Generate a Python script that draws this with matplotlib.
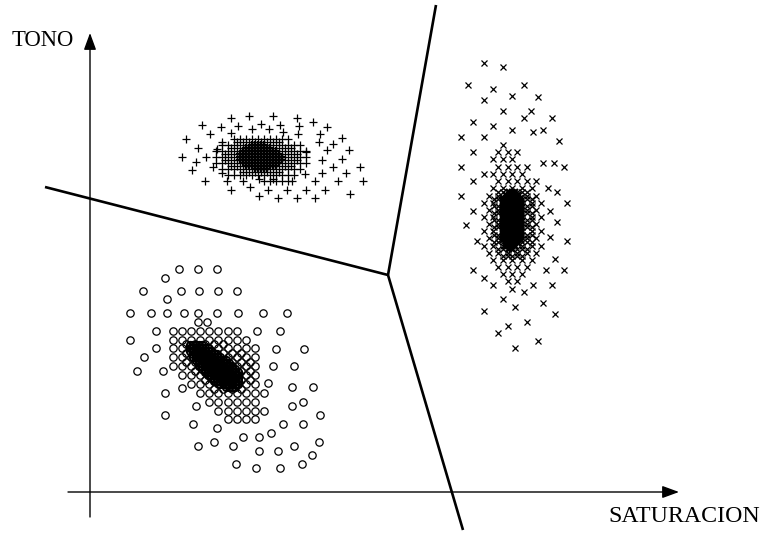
import matplotlib

matplotlib.use("Agg")
import matplotlib.pyplot as plt

# the canvas is laid out in pixel units, y growing downward
W, H = 761, 533

# "+" class, upper left: scattered samples, a coarse lattice, a finer one, a dense core
plus_x = [231, 249, 273, 297, 313, 202, 221, 238, 252, 261, 269, 280, 299, 327,
          210, 231, 283, 298, 320, 342, 186, 222, 333, 319, 198, 217, 327, 349, 306,
          182, 206, 322, 342, 196, 213, 192, 360, 333, 222, 305, 322, 346,
          205, 227, 243, 259, 273, 292, 315, 338, 363, 231, 250, 268, 287, 306, 325,
          259, 278, 297, 315, 350]
plus_y = [118, 116, 116, 118, 122, 125, 127, 126, 129, 124, 129, 125, 126, 127,
          134, 133, 132, 134, 134, 138, 139, 142, 144, 142, 148, 149, 150, 150, 152,
          157, 157, 160, 159, 162, 167, 170, 167, 167, 173, 174, 173, 173,
          181, 181, 181, 179, 179, 181, 181, 181, 181, 190, 187, 190, 190, 190, 190,
          196, 198, 198, 198, 194]
plus_grid = {
    139: [234, 240, 246, 252, 258, 264, 270, 276, 282, 288],
    145: [222, 228, 234, 240, 246, 252, 258, 264, 270, 276, 282, 288, 294, 300],
    151: [216, 222, 228, 234, 240, 246, 252, 258, 264, 270, 276, 282, 288, 294, 300, 306],
    157: [216, 222, 228, 234, 240, 246, 252, 258, 264, 270, 276, 282, 288, 294, 300, 306],
    163: [216, 222, 228, 234, 240, 246, 252, 258, 264, 270, 276, 282, 288, 294, 300, 306],
    169: [222, 228, 234, 240, 246, 252, 258, 264, 270, 276, 282, 288, 294, 300],
    175: [228, 234, 240, 246, 252, 258, 264, 270, 276, 282, 288, 294],
    181: [264, 270, 276, 282, 288],
}
plus_mid = {
    142: [237, 243, 249, 255, 261, 267, 273, 279],
    148: [231, 237, 243, 249, 255, 261, 267, 273, 279, 285, 291],
    154: [225, 231, 237, 243, 249, 255, 261, 267, 273, 279, 285, 291, 297],
    160: [225, 231, 237, 243, 249, 255, 261, 267, 273, 279, 285, 291, 297],
    166: [231, 237, 243, 249, 255, 261, 267, 273, 279, 285, 291],
    172: [243, 249, 255, 261, 267, 273, 279],
}
plus_core = {
    145: [252, 255, 258, 261, 264],
    148: [246, 249, 252, 255, 258, 261, 264, 267, 270],
    151: [243, 246, 249, 252, 255, 258, 261, 264, 267, 270, 273, 276],
    154: [240, 243, 246, 249, 252, 255, 258, 261, 264, 267, 270, 273, 276, 279],
    157: [240, 243, 246, 249, 252, 255, 258, 261, 264, 267, 270, 273, 276, 279, 282],
    160: [240, 243, 246, 249, 252, 255, 258, 261, 264, 267, 270, 273, 276, 279, 282],
    163: [243, 246, 249, 252, 255, 258, 261, 264, 267, 270, 273, 276, 279],
    166: [246, 249, 252, 255, 258, 261, 264, 267, 270, 273, 276],
    169: [255, 258, 261, 264, 267],
}

# "x" class, right
cross_x = [484, 503, 468, 493, 524, 484, 512, 538, 503, 531, 473, 493, 524, 552,
           512, 533, 543, 461, 484, 559, 473, 461, 543, 554, 564, 473, 548, 557, 461,
           567, 473, 550, 466, 557, 477, 567, 550, 555, 473, 546, 564, 484, 533, 552,
           493, 524, 503, 543, 515, 484, 555, 508, 527, 498, 538, 515]
cross_y = [63, 67, 85, 89, 85, 100, 96, 97, 111, 111, 122, 126, 118, 118,
           130, 132, 130, 137, 137, 141, 152, 167, 163, 163, 167, 181, 188, 192, 196,
           203, 211, 211, 225, 222, 241, 241, 237, 259, 270, 270, 270, 278, 285, 285,
           285, 292, 299, 303, 307, 311, 314, 326, 322, 333, 341, 348]
cross_grid = {
    145: [503],
    152: [498, 508, 517],
    159: [493, 503, 512],
    167: [498, 508, 517, 527],
    174: [484, 493, 503, 512, 522],
    181: [498, 508, 517, 527, 536],
    188: [493, 503, 512, 522, 532],
    196: [489, 498, 508, 517, 527, 536],
    203: [484, 493, 503, 512, 522, 532, 541],
    210: [489, 498, 508, 517, 527, 536],
    217: [484, 493, 503, 512, 522, 532, 541],
    224: [489, 498, 508, 517, 527, 536],
    231: [484, 493, 503, 512, 522, 532, 541],
    238: [489, 498, 508, 517, 527, 536],
    246: [484, 493, 503, 512, 522, 532, 541],
    253: [489, 498, 508, 517, 527, 536],
    260: [493, 503, 512, 522, 532],
    267: [498, 508, 517, 527],
    274: [503, 512, 522],
    281: [508, 517],
    289: [512],
}
cross_mid = {
    192: [498, 503, 508, 512, 517, 522, 527],
    199: [494, 498, 503, 508, 512, 517, 522, 527, 532],
    206: [494, 498, 503, 508, 512, 517, 522, 527, 532],
    213: [494, 498, 503, 508, 512, 517, 522, 527, 532],
    220: [494, 498, 503, 508, 512, 517, 522, 527, 532],
    227: [494, 498, 503, 508, 512, 517, 522, 527, 532],
    235: [494, 498, 503, 508, 512, 517, 522, 527, 532],
    242: [494, 498, 503, 508, 512, 517, 522, 527, 532],
    249: [498, 503, 508, 512, 517, 522, 527],
    256: [503, 508, 512, 517, 522],
}
cross_core = {
    192: [509, 512, 515],
    195: [506, 509, 512, 515, 518],
    198: [503, 506, 509, 512, 515, 518, 521],
    201: [503, 506, 509, 512, 515, 518, 521],
    204: [503, 506, 509, 512, 515, 518, 521],
    207: [503, 506, 509, 512, 515, 518, 521],
    210: [503, 506, 509, 512, 515, 518, 521],
    213: [503, 506, 509, 512, 515, 518, 521],
    216: [503, 506, 509, 512, 515, 518, 521],
    219: [503, 506, 509, 512, 515, 518, 521],
    222: [503, 506, 509, 512, 515, 518, 521],
    225: [503, 506, 509, 512, 515, 518, 521],
    228: [503, 506, 509, 512, 515, 518, 521],
    231: [503, 506, 509, 512, 515, 518, 521],
    234: [503, 506, 509, 512, 515, 518, 521],
    237: [503, 506, 509, 512, 515, 518, 521],
    240: [503, 506, 509, 512, 515, 518, 521],
    243: [506, 509, 512, 515, 518],
    246: [506, 509, 512, 515],
    249: [509, 512],
}

# "o" class, lower left
circ_x = [179, 198, 217, 165, 143, 167, 181, 199, 218, 237, 130, 151, 167, 184, 198,
          217, 238, 198, 207, 156, 130, 156, 144, 263, 287, 257, 280, 276, 304, 273,
          294, 268, 292, 313, 137, 163, 182, 165, 165, 193, 196, 217, 198, 214, 233,
          236, 243, 259, 271, 283, 259, 278, 294, 256, 280, 302, 312, 319, 303, 320,
          292, 303]
circ_y = [269, 269, 269, 278, 291, 299, 291, 291, 291, 291, 313, 313, 313, 313, 313,
          313, 313, 322, 322, 331, 340, 348, 357, 313, 313, 331, 331, 349, 349, 366,
          366, 383, 387, 387, 371, 371, 388, 393, 415, 424, 406, 428, 446, 442, 446,
          464, 437, 437, 433, 424, 451, 451, 446, 468, 468, 464, 455, 442, 424, 415,
          406, 402]
circ_grid = {
    331: [173, 182, 191, 200, 209, 218, 228, 237],
    340: [173, 182, 191, 200, 209, 218, 228, 237, 246],
    348: [173, 182, 191, 200, 209, 218, 228, 237, 246, 255],
    357: [173, 182, 191, 200, 209, 218, 228, 237, 246, 255],
    366: [173, 182, 191, 200, 209, 218, 228, 237, 246, 255],
    375: [182, 191, 200, 209, 218, 228, 237, 246, 255],
    384: [191, 200, 209, 218, 228, 237, 246, 255],
    393: [200, 209, 218, 228, 237, 246, 255, 264],
    402: [209, 218, 228, 237, 246, 255],
    411: [218, 228, 237, 246, 255, 264],
    419: [228, 237, 246, 255],
}
circ_mid = {
    344: [186, 195, 205, 214, 223],
    353: [186, 195, 205, 214, 223, 232, 241],
    362: [186, 195, 205, 214, 223, 232, 241, 250],
    371: [195, 205, 214, 223, 232, 241, 250],
    380: [205, 214, 223, 232, 241, 250],
    389: [214, 223, 232, 241],
}
circ_core = {
    345: [190, 193, 196, 199, 202],
    348: [190, 193, 196, 199, 202, 205, 208],
    351: [190, 193, 196, 199, 202, 205, 208, 211],
    354: [193, 196, 199, 202, 205, 208, 211, 214, 217],
    357: [193, 196, 199, 202, 205, 208, 211, 214, 217, 220],
    360: [196, 199, 202, 205, 208, 211, 214, 217, 220, 223, 226],
    363: [199, 202, 205, 208, 211, 214, 217, 220, 223, 226, 229],
    366: [199, 202, 205, 208, 211, 214, 217, 220, 223, 226, 229, 232],
    369: [202, 205, 208, 211, 214, 217, 220, 223, 226, 229, 232, 235],
    372: [205, 208, 211, 214, 217, 220, 223, 226, 229, 232, 235, 238],
    375: [208, 211, 214, 217, 220, 223, 226, 229, 232, 235, 238],
    378: [211, 214, 217, 220, 223, 226, 229, 232, 235, 238],
    381: [214, 217, 220, 223, 226, 229, 232, 235, 238],
    384: [220, 223, 226, 229, 232, 235, 238],
    387: [226, 229, 232, 235],
}

# decision boundaries meeting at one vertex
boundary_segments = [
    ((45, 187), (388, 275)),
    ((436, 5), (388, 275)),
    ((388, 275), (463, 530)),
]


def rows_to_xy(rows):
    xs, ys = [], []
    for y, row in rows.items():
        xs += row
        ys += [y] * len(row)
    return xs, ys


fig = plt.figure(figsize=(W / 100, H / 100), dpi=100)
ax = fig.add_axes([0, 0, 1, 1])
ax.set_xlim(0, W)
ax.set_ylim(H, 0)
ax.axis("off")

# axes with arrow heads
arrow = dict(arrowstyle="-|>,head_length=0.6,head_width=0.22", lw=1.0,
             color="black", mutation_scale=17, shrinkA=0, shrinkB=0)
ax.annotate("", xy=(90, 33), xytext=(90, 517), arrowprops=arrow)
ax.annotate("", xy=(679, 492), xytext=(68, 492), arrowprops=arrow)

serif = ["Liberation Serif", "DejaVu Serif"]
ax.text(12, 41, "TONO", family=serif, fontsize=16.3, ha="left", va="center")
ax.text(608, 516, "SATURACION", family=serif, fontsize=17.2, ha="left", va="center")

for (x0, y0), (x1, y1) in boundary_segments:
    ax.plot([x0, x1], [y0, y1], color="black", lw=1.9, solid_capstyle="butt")

# "+" samples
px, py = rows_to_xy(plus_grid)
ax.plot(plus_x + px, plus_y + py, "+", color="black", ms=5.6, mew=0.9, ls="none")
px, py = rows_to_xy(plus_mid)
ax.plot(px, py, "+", color="black", ms=5.6, mew=0.9, ls="none")
px, py = rows_to_xy(plus_core)
ax.plot(px, py, "+", color="black", ms=5.6, mew=1.6, ls="none")

# "x" samples
cx, cy = rows_to_xy(cross_grid)
ax.plot(cross_x + cx, cross_y + cy, "x", color="black", ms=4.0, mew=0.9, ls="none")
cx, cy = rows_to_xy(cross_mid)
ax.plot(cx, cy, "x", color="black", ms=4.0, mew=0.9, ls="none")
cx, cy = rows_to_xy(cross_core)
ax.plot(cx, cy, "x", color="black", ms=4.0, mew=1.6, ls="none")

# "o" samples
ox, oy = rows_to_xy(circ_grid)
ax.plot(circ_x + ox, circ_y + oy, "o", mfc="none", mec="black", ms=5.3, mew=0.9, ls="none")
ox, oy = rows_to_xy(circ_mid)
ax.plot(ox, oy, "o", mfc="none", mec="black", ms=5.3, mew=0.9, ls="none")
ox, oy = rows_to_xy(circ_core)
ax.plot(ox, oy, "o", mfc="none", mec="black", ms=5.3, mew=1.4, ls="none")

fig.savefig("out.png", dpi=100, facecolor="white")
